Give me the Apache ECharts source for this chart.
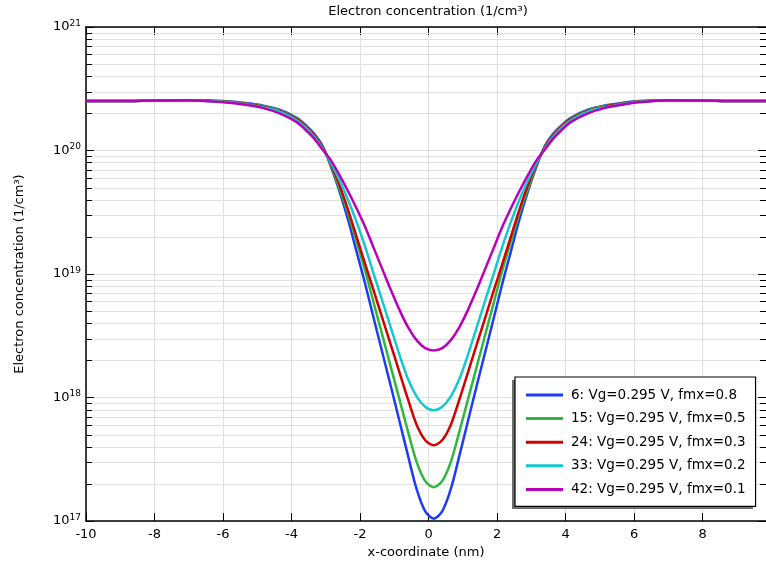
<!DOCTYPE html>
<html><head><meta charset="utf-8">
<script src="https://cdn.jsdelivr.net/npm/echarts@6/dist/echarts.min.js"></script>
<style>html,body{margin:0;padding:0;background:#fff}#c{width:766px;height:564px}</style>
</head><body><div id="c"></div>
<script>
// x-coordinate (nm)
const xNm = [-10, -9, -8, -7, -6, -5.35, -4.85, -4.35, -3.85, -3.6, -3.35, -3.1, -2.85, -2.6, -2.35, -2.1, -1.85, -1.6, -1.35, -1.1, -0.85, -0.6, -0.35, -0.1, 0.15,
  0.4, 0.65, 0.9, 1.15, 1.4, 1.65, 1.9, 2.15, 2.4, 2.65, 2.9, 3.15, 3.4, 3.65, 3.9, 4.15, 4.65, 5.15, 5.65, 6.15, 7, 8, 9, 9.85];
// log10 of electron concentration (1/cm^3)
const log6 = [20.40, 20.40, 20.405, 20.408, 20.40, 20.385, 20.365, 20.33, 20.265, 20.21, 20.14, 20.04, 19.87, 19.67, 19.44, 19.18, 18.92, 18.64, 18.365, 18.09, 17.81, 17.53, 17.26, 17.08, 17.02,
  17.08, 17.26, 17.53, 17.81, 18.09, 18.365, 18.64, 18.92, 19.18, 19.44, 19.67, 19.87, 20.04, 20.14, 20.21, 20.265, 20.33, 20.365, 20.385, 20.40, 20.408, 20.405, 20.40, 20.40];
const log15 = [20.40, 20.40, 20.405, 20.408, 20.398, 20.38, 20.36, 20.325, 20.26, 20.205, 20.13, 20.035, 19.88, 19.69, 19.49, 19.26, 19.025, 18.765, 18.505, 18.245, 17.985, 17.725, 17.48, 17.326, 17.275,
  17.326, 17.48, 17.725, 17.985, 18.245, 18.505, 18.765, 19.025, 19.26, 19.49, 19.69, 19.88, 20.035, 20.13, 20.205, 20.26, 20.325, 20.36, 20.38, 20.398, 20.408, 20.405, 20.40, 20.40];
const log24 = [20.40, 20.40, 20.405, 20.408, 20.396, 20.378, 20.355, 20.32, 20.255, 20.20, 20.125, 20.03, 19.89, 19.72, 19.52, 19.30, 19.08, 18.863, 18.644, 18.425, 18.205, 17.985, 17.78, 17.656, 17.614,
  17.656, 17.78, 17.985, 18.205, 18.425, 18.644, 18.863, 19.08, 19.30, 19.52, 19.72, 19.89, 20.03, 20.125, 20.20, 20.255, 20.32, 20.355, 20.378, 20.396, 20.408, 20.405, 20.40, 20.40];
const log33 = [20.40, 20.40, 20.405, 20.408, 20.394, 20.375, 20.35, 20.315, 20.245, 20.19, 20.115, 20.02, 19.90, 19.76, 19.60, 19.42, 19.22, 19.00, 18.783, 18.565, 18.347, 18.15, 18.01, 17.925, 17.897,
  17.925, 18.01, 18.15, 18.347, 18.565, 18.783, 19.00, 19.22, 19.42, 19.60, 19.76, 19.90, 20.02, 20.115, 20.19, 20.245, 20.315, 20.35, 20.375, 20.394, 20.408, 20.405, 20.40, 20.40];
const log42 = [20.40, 20.40, 20.405, 20.408, 20.39, 20.37, 20.345, 20.30, 20.23, 20.17, 20.10, 20.01, 19.92, 19.80, 19.67, 19.53, 19.38, 19.21, 19.04, 18.87, 18.71, 18.57, 18.465, 18.40, 18.382,
  18.40, 18.465, 18.57, 18.71, 18.87, 19.04, 19.21, 19.38, 19.53, 19.67, 19.80, 19.92, 20.01, 20.10, 20.17, 20.23, 20.30, 20.345, 20.37, 20.39, 20.408, 20.405, 20.40, 20.40];

const seriesNames = ['6: Vg=0.295 V, fmx=0.8', '15: Vg=0.295 V, fmx=0.5', '24: Vg=0.295 V, fmx=0.3', '33: Vg=0.295 V, fmx=0.2', '42: Vg=0.295 V, fmx=0.1'];
const seriesLogs = [log6, log15, log24, log33, log42];
const seriesColors = ['#1c3cf5', '#2db83d', '#d40000', '#14c8d2', '#bb00bb'];

const xTicks = [-10, -8, -6, -4, -2, 0, 2, 4, 6, 8];
const yMin = 1e17, yMax = 1e21;
const minorVals = [];
for (let e = 17; e < 21; e++) for (let k = 2; k <= 9; k++) minorVals.push(k * Math.pow(10, e));

const FONT = 'DejaVu Sans';
const chart = echarts.init(document.getElementById('c'), null, {renderer: 'canvas'});

const lineSeries = seriesNames.map((n, i) => ({
  name: n, type: 'line', symbol: 'none', smooth: 0.3, z: 5,
  lineStyle: {color: seriesColors[i], width: 2.5},
  itemStyle: {color: seriesColors[i]},
  data: xNm.map((x, j) => [x, Math.pow(10, seriesLogs[i][j])])
}));

const minorSeries = {
  type: 'custom', silent: true, z: 1, xAxisIndex: 0, yAxisIndex: 0,
  data: minorVals.map(v => [0, v]),
  renderItem: function (params, api) {
    const cs = params.coordSys;
    const y = Math.round(api.coord([0, api.value(1)])[1]) + 0.5;
    return {type: 'group', children: [
      {type: 'line', shape: {x1: cs.x, y1: y, x2: cs.x + cs.width, y2: y}, style: {stroke: '#e0e0e0', lineWidth: 1}},
      {type: 'line', shape: {x1: cs.x, y1: y, x2: cs.x + 6, y2: y}, style: {stroke: '#000', lineWidth: 1}},
      {type: 'line', shape: {x1: cs.x + cs.width - 6, y1: y, x2: cs.x + cs.width, y2: y}, style: {stroke: '#000', lineWidth: 1}}
    ]};
  }
};

const AX = {color: '#000', width: 1.5};

chart.setOption({
  animation: false,
  backgroundColor: '#fff',
  textStyle: {fontFamily: FONT},
  title: {text: 'Electron concentration (1/cm³)', left: 428, top: 5, padding: 0, textAlign: 'center',
    textStyle: {fontFamily: FONT, fontSize: 13, fontWeight: 'normal', color: '#000'}},
  grid: {left: 86, right: 0, top: 27, bottom: 42, containLabel: false},
  graphic: [{
    type: 'rect', z: 10, silent: true,
    shape: {x: 512, y: 380, width: 241, height: 129},
    style: {fill: '#6e6e6e'}
  }],
  xAxis: [{
    type: 'value', min: -10, max: 9.85, interval: 2, position: 'bottom',
    name: 'x-coordinate (nm)', nameLocation: 'middle', nameGap: 21,
    nameTextStyle: {fontFamily: FONT, fontSize: 13, color: '#000'},
    axisLine: {show: true, onZero: false, lineStyle: AX},
    axisTick: {inside: true, length: 8, lineStyle: {color: '#000'}},
    axisLabel: {color: '#000', fontFamily: FONT, fontSize: 13, margin: 7,
      formatter: v => (xTicks.indexOf(v) >= 0 ? String(v) : ''), showMaxLabel: false},
    splitLine: {show: true, lineStyle: {color: '#e0e0e0', width: 1}}
  }, {
    type: 'value', min: -10, max: 9.85, interval: 2, position: 'top',
    axisLine: {show: true, onZero: false, lineStyle: AX},
    axisTick: {inside: true, length: 8, lineStyle: {color: '#000'}},
    axisLabel: {show: false}, splitLine: {show: false}
  }],
  yAxis: [{
    type: 'log', logBase: 10, min: yMin, max: yMax, position: 'left',
    name: 'Electron concentration (1/cm³)', nameLocation: 'middle', nameGap: 60,
    nameTextStyle: {fontFamily: FONT, fontSize: 13, color: '#000'},
    axisLine: {show: true, onZero: false, lineStyle: AX},
    axisTick: {inside: true, length: 8, lineStyle: {color: '#000'}},
    axisLabel: {color: '#000', margin: 5,
      formatter: v => '{b|10}{s|' + Math.round(Math.log10(v)) + '}',
      rich: {b: {fontFamily: FONT, fontSize: 13, color: '#000', lineHeight: 16},
             s: {fontFamily: FONT, fontSize: 9, color: '#000', verticalAlign: 'top', lineHeight: 16, padding: [0, 0, 8, 0]}}},
    splitLine: {show: true, lineStyle: {color: '#e0e0e0', width: 1}}
  }, {
    type: 'log', logBase: 10, min: yMin, max: yMax, position: 'right',
    axisLine: {show: false, onZero: false},
    axisTick: {inside: true, length: 8, lineStyle: {color: '#000'}},
    axisLabel: {show: false}, splitLine: {show: false}
  }],
  legend: {
    data: seriesNames, orient: 'vertical', left: 515, top: 377, z: 20,
    padding: [10, 10, 9, 11], itemGap: 7.6, itemWidth: 37, itemHeight: 3, icon: 'rect',
    backgroundColor: '#fff', borderColor: '#000', borderWidth: 1.2,
    textStyle: {fontFamily: FONT, fontSize: 13.5, color: '#000', lineHeight: 16, padding: [0, 0, 0, 3]}
  },
  series: [minorSeries].concat(lineSeries)
});
</script></body></html>
